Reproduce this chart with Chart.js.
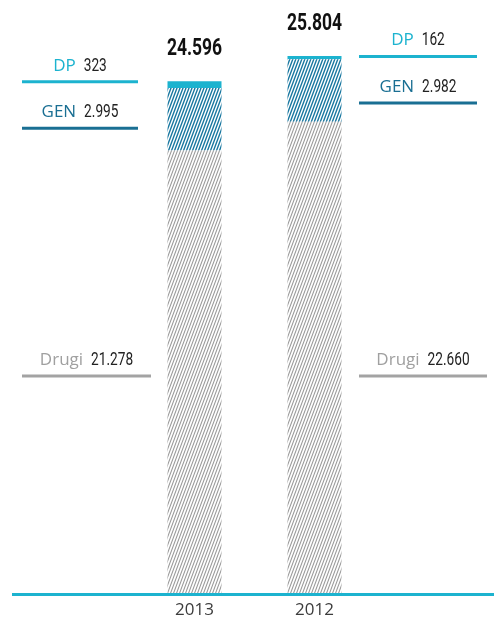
<!DOCTYPE html>
<html>
<head>
<meta charset="utf-8">
<script src="https://cdn.jsdelivr.net/npm/chart.js@4/dist/chart.umd.min.js"></script>
<style>
  html, body { margin: 0; padding: 0; background: #fff; }
  #wrap { width: 494px; height: 624px; position: relative; }
</style>
</head>
<body>
<div id="wrap"><canvas id="chart"></canvas></div>
<script>
// ---- Data ----
const years = ['2013', '2012'];
const drugi = [21278, 22660];
const gen = [2995, 2982];
const dp = [323, 162];
const seriesNames = ['Drugi', 'GEN', 'DP'];

// ---- Colours & fonts ----
const CYAN = '#1cb3cf';
const TEAL = '#1a6f93';
const GREY = '#a3a3a3';
const WORD_FONT = '"Open Sans", "DejaVu Sans", sans-serif';
const NUM_FONT = 'Roboto, "DejaVu Sans", sans-serif';
const NUM_SX = 0.76; // squeeze numbers to look condensed

function fmt(v) {
    return String(v).replace(/\B(?=(\d{3})+(?!\d))/g, '.');
}

// draw text squeezed horizontally, left aligned at x; returns drawn width
function squeezed(ctx, txt, x, y) {
    ctx.save();
    ctx.translate(x, y);
    ctx.scale(NUM_SX, 1);
    ctx.textAlign = 'left';
    ctx.fillText(txt, 0, 0);
    ctx.restore();
}

// hatch pattern: steep "////" stripes on white
function hatch(color, lw) {
    const c = document.createElement('canvas');
    c.width = 3; c.height = 8;
    const g = c.getContext('2d');
    g.fillStyle = '#fff';
    g.fillRect(0, 0, 3, 8);
    g.strokeStyle = color;
    g.lineWidth = lw;
    g.beginPath();
    for (let k = -1; k <= 1; k++) {
        g.moveTo(-1 + k * 3, 8 + 8 / 3);
        g.lineTo(3 + 1 + k * 3, -8 / 3);
    }
    g.stroke();
    return g.createPattern(c, 'repeat');
}

// ---- Callouts, totals and base line ----
const callouts = {
    id: 'callouts',
    afterDatasetsDraw(chart) {
        const ctx = chart.ctx;
        const y = chart.scales.y;
        const base = y.getPixelForValue(0);

        // base line
        ctx.save();
        ctx.strokeStyle = CYAN;
        ctx.lineWidth = 3;
        ctx.beginPath();
        ctx.moveTo(12, base - 1);
        ctx.lineTo(chart.width, base - 1);
        ctx.stroke();

        const meta = chart.getDatasetMeta(0);
        const sides = [
            { dpGen: [22, 138], drugi: [22, 151] },
            { dpGen: [359, 477], drugi: [359, 487] }
        ];
        const drugiLineY = 376;
        ctx.textBaseline = 'alphabetic';

        years.forEach((yr, i) => {
            const bar = meta.data[i];
            const total = drugi[i] + gen[i] + dp[i];
            const topY = y.getPixelForValue(total);

            // total above bar
            ctx.fillStyle = '#111';
            ctx.font = 'bold 23px ' + NUM_FONT;
            const tw = ctx.measureText(fmt(total)).width * NUM_SX;
            squeezed(ctx, fmt(total), bar.x - tw / 2, topY - 26);

            const s = sides[i];
            const rows = [
                { name: seriesNames[2], val: dp[i], color: CYAN, lineY: topY + 0.5, span: s.dpGen },
                { name: seriesNames[1], val: gen[i], color: TEAL, lineY: topY + 47, span: s.dpGen },
                { name: seriesNames[0], val: drugi[i], color: GREY, lineY: drugiLineY, span: s.drugi }
            ];
            rows.forEach(r => {
                ctx.strokeStyle = r.color;
                ctx.lineWidth = 3;
                ctx.beginPath();
                ctx.moveTo(r.span[0], r.lineY);
                ctx.lineTo(r.span[1], r.lineY);
                ctx.stroke();

                ctx.font = '17px ' + WORD_FONT;
                const wName = ctx.measureText(r.name).width;
                ctx.font = '18px ' + NUM_FONT;
                const valTxt = fmt(r.val);
                const wVal = ctx.measureText(valTxt).width * NUM_SX;
                const gap = 8;
                const cx = (r.span[0] + r.span[1]) / 2;
                const x = cx - (wName + gap + wVal) / 2;
                const by = r.lineY - 11;
                ctx.textAlign = 'left';
                ctx.font = '17px ' + WORD_FONT;
                ctx.fillStyle = r.color === GREY ? '#a0a0a0' : r.color;
                ctx.fillText(r.name, x, by);
                ctx.font = '18px ' + NUM_FONT;
                ctx.fillStyle = '#222';
                squeezed(ctx, valTxt, x + wName + gap, by);
            });
        });
        ctx.restore();
    }
};

const ctx = document.getElementById('chart').getContext('2d');
new Chart(ctx, {
    type: 'bar',
    data: {
        labels: years,
        datasets: [
            { label: seriesNames[0], data: drugi, backgroundColor: hatch('#9a9a9a', 1.1) },
            { label: seriesNames[1], data: gen, backgroundColor: hatch('#1877a0', 1.4) },
            { label: seriesNames[2], data: dp, backgroundColor: CYAN }
        ]
    },
    options: {
        responsive: true,
        maintainAspectRatio: false,
        animation: false,
        devicePixelRatio: 1,
        layout: { padding: { left: 134.5, right: 119.5, top: 10, bottom: 4 } },
        datasets: { bar: { barPercentage: 0.45, categoryPercentage: 1, borderWidth: 0 } },
        plugins: { legend: { display: false }, tooltip: { enabled: false } },
        scales: {
            x: {
                stacked: true,
                grid: { display: false, tickLength: 4 },
                border: { display: false },
                ticks: { padding: 0, color: '#3c3c3c', font: { family: WORD_FONT, size: 17 } }
            },
            y: {
                stacked: true,
                display: false,
                min: 0,
                max: 28000
            }
        }
    },
    plugins: [callouts]
});
</script>
</body>
</html>
